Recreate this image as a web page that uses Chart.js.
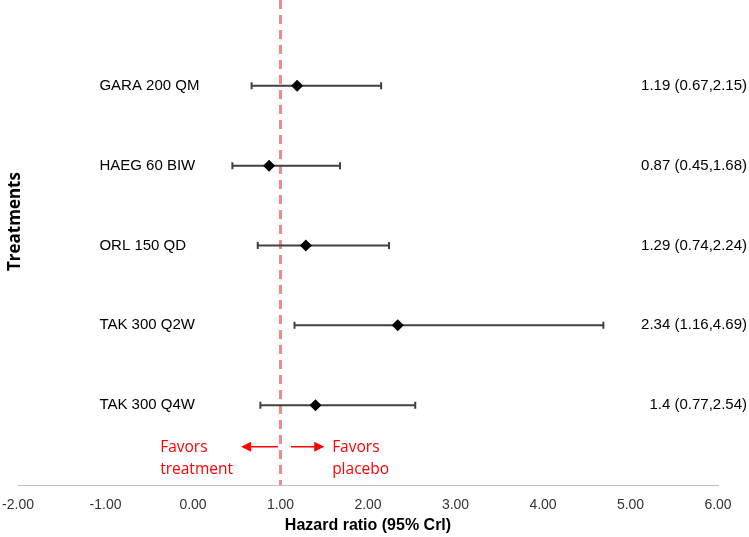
<!DOCTYPE html>
<html>
<head>
<meta charset="utf-8">
<script src="https://cdn.jsdelivr.net/npm/chart.js@4"></script>
<style>
  html, body { margin: 0; padding: 0; background: #fff; }
</style>
</head>
<body>
<canvas id="myChart" width="749" height="537"></canvas>
<script>
// data
var treatments = ['GARA 200 QM', 'HAEG 60 BIW', 'ORL 150 QD', 'TAK 300 Q2W', 'TAK 300 Q4W'];
var hazard = [1.19, 0.87, 1.29, 2.34, 1.4];
var lower = [0.67, 0.45, 0.74, 1.16, 0.77];
var upper = [2.15, 1.68, 2.24, 4.69, 2.54];
var refValue = 1;
var xMin = -2, xMax = 6;
var xTitle = 'Hazard ratio (95% Crl)';
var yTitle = 'Treatments';

var points = [];
for (var i = 0; i < treatments.length; i++) {
  points.push({x: hazard[i], y: i + 1});
}

var forestPlugin = {
  id: 'forest',
  beforeDatasetsDraw: function(chart) {
    var ctx = chart.ctx;
    var xs = chart.scales.x, ys = chart.scales.y;
    var area = chart.chartArea;
    // reference line at HR = 1
    var rx = xs.getPixelForValue(refValue);
    ctx.save();
    ctx.strokeStyle = '#f4898a';
    ctx.lineWidth = 3;
    ctx.setLineDash([9, 6]);
    ctx.beginPath();
    ctx.moveTo(rx, 0);
    ctx.lineTo(rx, area.bottom);
    ctx.stroke();
    ctx.setLineDash([]);
    // error bars
    ctx.strokeStyle = '#404040';
    ctx.lineWidth = 2;
    for (var i = 0; i < treatments.length; i++) {
      var y = ys.getPixelForValue(i + 1);
      var x1 = xs.getPixelForValue(lower[i]);
      var x2 = xs.getPixelForValue(upper[i]);
      ctx.beginPath();
      ctx.moveTo(x1, y); ctx.lineTo(x2, y);
      ctx.moveTo(x1, y - 3.5); ctx.lineTo(x1, y + 3.5);
      ctx.moveTo(x2, y - 3.5); ctx.lineTo(x2, y + 3.5);
      ctx.stroke();
    }
    ctx.restore();
  },
  afterDraw: function(chart) {
    var ctx = chart.ctx;
    var xs = chart.scales.x, ys = chart.scales.y;
    var area = chart.chartArea;
    ctx.save();
    ctx.fillStyle = '#000';
    ctx.font = '15px "Liberation Sans", Arial, sans-serif';
    ctx.textBaseline = 'middle';
    for (var i = 0; i < treatments.length; i++) {
      var y = ys.getPixelForValue(i + 1);
      ctx.textAlign = 'left';
      ctx.fillText(treatments[i], xs.getPixelForValue(-1.07), y);
      ctx.textAlign = 'right';
      ctx.fillText(hazard[i] + ' (' + lower[i].toFixed(2) + ',' + upper[i].toFixed(2) + ')', chart.width - 2, y);
    }
    // x title
    ctx.textAlign = 'center';
    ctx.font = 'bold 16px "Liberation Sans", Arial, sans-serif';
    ctx.fillText(xTitle, (area.left + area.right) / 2, area.bottom + 41);
    // y title
    ctx.save();
    ctx.translate(15, ys.getPixelForValue(2.7));
    ctx.rotate(-Math.PI / 2);
    ctx.textAlign = 'center';
    ctx.font = 'bold 17px "Open Sans", sans-serif';
    ctx.fillText(yTitle, 0, 0);
    ctx.restore();
    // favors annotation
    var ay = ys.getPixelForValue(5.52);
    ctx.fillStyle = '#ff0000';
    ctx.strokeStyle = '#ff0000';
    ctx.lineWidth = 1.5;
    ctx.font = '15.5px "Open Sans", sans-serif';
    ctx.textAlign = 'left';
    ctx.fillText('Favors', xs.getPixelForValue(-0.375), ay + 1);
    ctx.fillText('treatment', xs.getPixelForValue(-0.375), ay + 23);
    ctx.fillText('Favors', xs.getPixelForValue(1.59), ay + 1);
    ctx.fillText('placebo', xs.getPixelForValue(1.59), ay + 23);
    var l1 = xs.getPixelForValue(0.97), l2 = xs.getPixelForValue(0.55);
    var r1 = xs.getPixelForValue(1.12), r2 = xs.getPixelForValue(1.5);
    ctx.beginPath();
    ctx.moveTo(l1, ay); ctx.lineTo(l2 + 6, ay);
    ctx.moveTo(r1, ay); ctx.lineTo(r2 - 6, ay);
    ctx.stroke();
    ctx.beginPath();
    ctx.moveTo(l2, ay); ctx.lineTo(l2 + 10, ay - 5); ctx.lineTo(l2 + 10, ay + 5); ctx.closePath();
    ctx.moveTo(r2, ay); ctx.lineTo(r2 - 10, ay - 5); ctx.lineTo(r2 - 10, ay + 5); ctx.closePath();
    ctx.fill();
    ctx.restore();
  }
};

var config = {
  type: 'scatter',
  data: {
    datasets: [{
      label: 'Hazard ratio',
      data: points,
      pointStyle: 'rectRot',
      pointRadius: 6,
      pointHoverRadius: 6,
      backgroundColor: '#000',
      borderColor: '#000',
      borderWidth: 0
    }]
  },
  options: {
    responsive: false,
    animation: false,
    layout: { padding: { top: 0, right: 31, bottom: 12, left: 0 } },
    plugins: { legend: { display: false }, tooltip: { enabled: false } },
    scales: {
      x: {
        type: 'linear',
        min: xMin,
        max: xMax,
        grid: { display: false, drawTicks: false },
        border: { display: true, color: '#bfbfbf', width: 1 },
        afterFit: function(scale) { scale.paddingLeft = 18; },
        ticks: {
          stepSize: 1,
          padding: 13,
          color: '#333333',
          font: { family: '"Liberation Sans", Arial, sans-serif', size: 14, lineHeight: 1 },
          callback: function(v) { return Number(v).toFixed(2); }
        }
      },
      y: {
        type: 'linear',
        display: false,
        reverse: true,
        min: 0,
        max: 6
      }
    }
  },
  plugins: [forestPlugin]
};

var myChart = new Chart(document.getElementById('myChart'), config);
</script>
</body>
</html>
